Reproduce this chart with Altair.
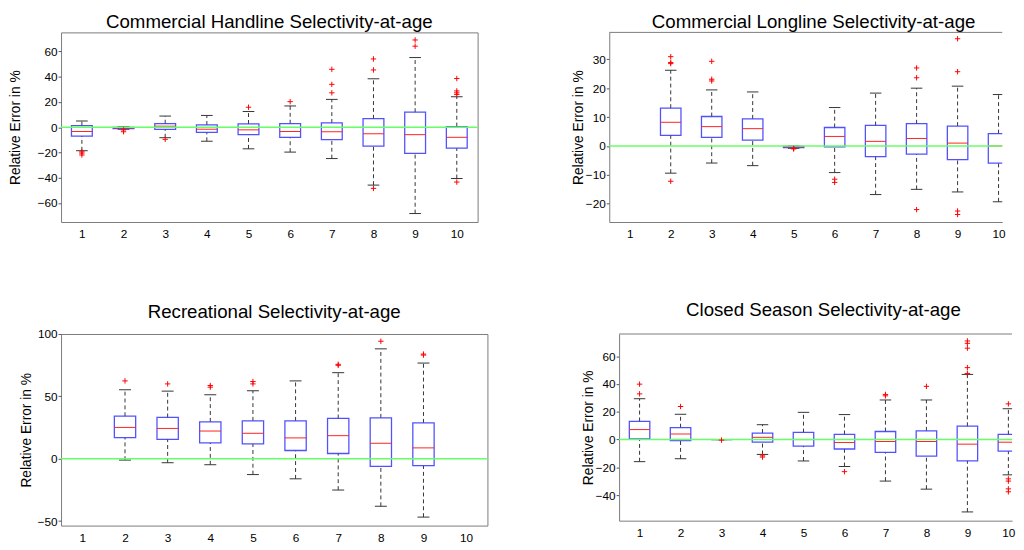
import altair as alt
import pandas as pd

AGES_ALL = [1, 2, 3, 4, 5, 6, 7, 8, 9, 10]

# ---- Commercial Handline ----
hl_age = [1, 2, 3, 4, 5, 6, 7, 8, 9, 10]
hl_lo = [-18.6, -1.6, -8.3, -11.1, -17.1, -19.7, -24.8, -45.8, -68.3, -40.6]
hl_q1 = [-7.0, -1.2, -1.8, -4.1, -5.9, -8.0, -9.8, -15.0, -20.7, -16.6]
hl_med = [-3.4, -0.6, 0.8, -1.6, -2.1, -3.4, -3.6, -5.2, -5.9, -8.0]
hl_q3 = [1.3, -0.2, 2.8, 1.8, 2.6, 2.8, 3.4, 6.7, 11.9, 0.5]
hl_hi = [4.9, 0.3, 8.8, 9.3, 12.4, 16.8, 22.0, 38.3, 55.1, 24.1]
hl_out_age = [1, 1, 1, 2, 2, 3, 5, 6, 7, 7, 7, 8, 8, 8, 9, 9, 10, 10, 10, 10, 10]
hl_out_val = [-19.5, -20.5, -22.0, -2.2, -3.6, -9.6, 15.8, 20.2, 45.8, 33.9, 27.2,
              54.0, 45.3, -48.4, 69.0, 64.1, 38.5, 28.7, 27.2, 25.9, -43.4]

# ---- Commercial Longline ----
ll_age = [2, 3, 4, 5, 6, 7, 8, 9, 10]
ll_lo = [-9.4, -5.9, -6.8, -0.8, -9.2, -16.8, -15.0, -15.9, -19.3]
ll_q1 = [3.7, 3.0, 2.0, -0.6, -0.3, -3.7, -2.8, -4.7, -5.9]
ll_med = [8.2, 6.7, 6.0, -0.3, 3.3, 1.6, 2.6, 1.0, 0.0]
ll_q3 = [13.1, 10.2, 9.4, -0.1, 6.4, 7.1, 7.7, 6.9, 4.3]
ll_hi = [26.2, 19.4, 18.7, 0.0, 13.3, 18.3, 20.0, 20.7, 17.8]
ll_out_age = [2, 2, 2, 2, 3, 3, 3, 5, 5, 6, 6, 8, 8, 8, 9, 9, 9, 9]
ll_out_val = [30.9, 28.9, 28.5, -12.2, 29.3, 23.1, 22.5, -0.9, -1.0, -11.5, -12.6,
              27.0, 23.6, -22.0, 37.1, 25.7, -22.5, -23.7]

# ---- Recreational ----
rc_age = [2, 3, 4, 5, 6, 7, 8, 9]
rc_lo = [-1.1, -3.2, -4.8, -12.7, -16.1, -25.1, -38.1, -46.8]
rc_q1 = [16.9, 15.6, 12.7, 11.9, 6.6, 4.2, -6.1, -5.6]
rc_med = [25.1, 24.3, 22.2, 20.4, 16.7, 18.5, 12.4, 8.7]
rc_q3 = [34.1, 33.1, 29.6, 30.4, 30.4, 32.3, 32.8, 28.8]
rc_hi = [55.3, 54.2, 51.3, 54.5, 62.4, 69.0, 88.1, 76.7]
rc_out_age = [2, 3, 4, 4, 5, 5, 7, 7, 8, 9, 9]
rc_out_val = [62.4, 60.0, 58.7, 57.4, 61.9, 60.0, 75.7, 74.9, 94.2, 83.9, 83.1]

# ---- Closed Season ----
cs_age = [1, 2, 3, 4, 5, 6, 7, 8, 9, 10]
cs_lo = [-15.9, -13.8, 0.0, -10.7, -15.4, -19.4, -29.9, -35.7, -52.1, -25.4]
cs_q1 = [0.5, -0.7, 0.0, -1.9, -4.7, -6.8, -9.3, -11.9, -15.4, -8.4]
cs_med = [7.2, 4.0, 0.0, 1.6, 0.0, -2.1, -1.4, -1.4, -3.3, -1.9]
cs_q3 = [13.1, 8.6, 0.0, 4.7, 5.1, 3.7, 5.8, 6.3, 9.6, 3.7]
cs_hi = [29.4, 18.2, 0.0, 10.7, 19.6, 18.0, 28.5, 28.5, 46.9, 22.2]
cs_out_age = [1, 1, 2, 3, 4, 4, 6, 7, 7, 8, 9, 9, 9, 9, 9, 10, 10, 10, 10, 10]
cs_out_val = [39.9, 32.9, 23.8, -0.4, -11.7, -12.6, -23.1, 32.5, 31.5, 38.3,
              71.0, 69.3, 65.8, 51.8, 47.6, 25.7, -28.3, -29.9, -35.5, -37.6]

FONT = "Liberation Sans"
PLUS = "M-1,0L1,0M0,-1L0,1"
FRAME = "#7a7a7a"


def panel(title, age, lo, q1, med, q3, hi, oage, oval, ydom, yticks, xmax,
          width, height, title_offset, title_pad, title_dx, open_right):
    df = pd.DataFrame(dict(age=age, lo=lo, q1=q1, med=med, q3=q3, hi=hi))
    odf = pd.DataFrame(dict(age=oage, val=oval))
    zdf = pd.DataFrame(dict(z=[0], top=[ydom[1]]))

    xs = alt.Scale(domain=[0.5, xmax], nice=False, zero=False)
    ys = alt.Scale(domain=ydom, nice=False, zero=False)
    xax = alt.Axis(values=AGES_ALL, format="d", title=None, ticks=False,
                   domain=open_right, domainColor=FRAME, domainWidth=1,
                   grid=False, labelFontSize=12, labelPadding=7, labelColor="black",
                   labelFont=FONT)
    yax = alt.Axis(values=yticks, format="d", title="Relative Error in %",
                   domain=open_right, domainColor=FRAME, domainWidth=1,
                   grid=False, tickSize=3, tickColor="#555555", labelFontSize=12,
                   labelPadding=1, labelColor="black", labelFont=FONT,
                   titleFontSize=14, titleFont=FONT, titleFontWeight="normal",
                   titleColor="black", titlePadding=title_pad,
                   minExtent=22, maxExtent=22)

    base = alt.Chart(df).transform_calculate(
        bl="datum.age - 0.25", br="datum.age + 0.25",
        cl="datum.age - 0.14", cr="datum.age + 0.14")

    def X(f):
        return alt.X(f, type="quantitative", scale=xs, axis=xax)

    def Y(f):
        return alt.Y(f, type="quantitative", scale=ys, axis=yax)

    wh_up = base.mark_rule(color="#333333", strokeDash=[4, 3], strokeWidth=1, clip=True).encode(
        x=X("age"), y=Y("q3"), y2="hi")
    wh_dn = base.mark_rule(color="#333333", strokeDash=[4, 3], strokeWidth=1, clip=True).encode(
        x=X("age"), y=Y("lo"), y2="q1")
    cap_up = base.mark_rule(color="#333333", strokeWidth=1, clip=True).encode(
        x=X("cl"), x2="cr", y=Y("hi"))
    cap_dn = base.mark_rule(color="#333333", strokeWidth=1, clip=True).encode(
        x=X("cl"), x2="cr", y=Y("lo"))
    box = base.mark_rect(fillOpacity=0, stroke="#3333ff", strokeWidth=1.3,
                         strokeOpacity=0.85, clip=True).encode(
        x=X("bl"), x2="br", y=Y("q1"), y2="q3")
    median = base.mark_rule(color="#ff2020", strokeWidth=1, clip=True).encode(
        x=X("bl"), x2="br", y=Y("med"))
    zero = alt.Chart(zdf).mark_rule(color="#66ff66", strokeWidth=1.5).encode(y=Y("z"))
    outl = alt.Chart(odf).mark_point(shape=PLUS, filled=False, color="#ff0000",
                                     size=30, strokeWidth=1, opacity=1, clip=True).encode(
        x=X("age"), y=Y("val"))

    layers = [wh_up, wh_dn, cap_up, cap_dn, box, median, zero, outl]
    props = dict(width=width, height=height,
                 title=alt.TitleParams(title, fontSize=19, font=FONT, fontWeight="normal",
                                       color="black", offset=title_offset, dx=title_dx))
    if open_right:
        top = alt.Chart(zdf).mark_rule(color=FRAME, strokeWidth=1).encode(y=Y("top"))
        layers.append(top)
        props["view"] = alt.ViewBackground(stroke="transparent")
    return alt.layer(*layers).properties(**props)


p1 = panel("Commercial Handline Selectivity-at-age", hl_age, hl_lo, hl_q1, hl_med, hl_q3, hl_hi,
           hl_out_age, hl_out_val, [-75, 75], [-60, -40, -20, 0, 20, 40, 60], 10.5,
           424, 193, 0, 17, 0, False)
p2 = panel("Commercial Longline Selectivity-at-age", ll_age, ll_lo, ll_q1, ll_med, ll_q3, ll_hi,
           ll_out_age, ll_out_val, [-26.3, 39.3], [-20, -10, 0, 10, 20, 30], 10.09,
           400, 193, 0, 2, 8, True)
p3 = panel("Recreational Selectivity-at-age", rc_age, rc_lo, rc_q1, rc_med, rc_q3, rc_hi,
           rc_out_age, rc_out_val, [-53.6, 100], [-50, 0, 50, 100], 10.5,
           434, 195, 6, 6, 0, False)
p4 = panel("Closed Season Selectivity-at-age", cs_age, cs_lo, cs_q1, cs_med, cs_q3, cs_hi,
           cs_out_age, cs_out_val, [-58.4, 76], [-40, -20, 0, 20, 40, 60], 10.09,
           400, 190, 14, 2, 8, True)

row1 = alt.hconcat(p1, p2, spacing=93)
row2 = alt.hconcat(p3, p4, spacing=93)
chart = alt.vconcat(row1, row2, spacing=61).properties(
    padding=0, background="white"
).configure_view(stroke=FRAME, strokeWidth=1)

chart.save("out.html", embed_options={"renderer": "svg", "actions": False})
